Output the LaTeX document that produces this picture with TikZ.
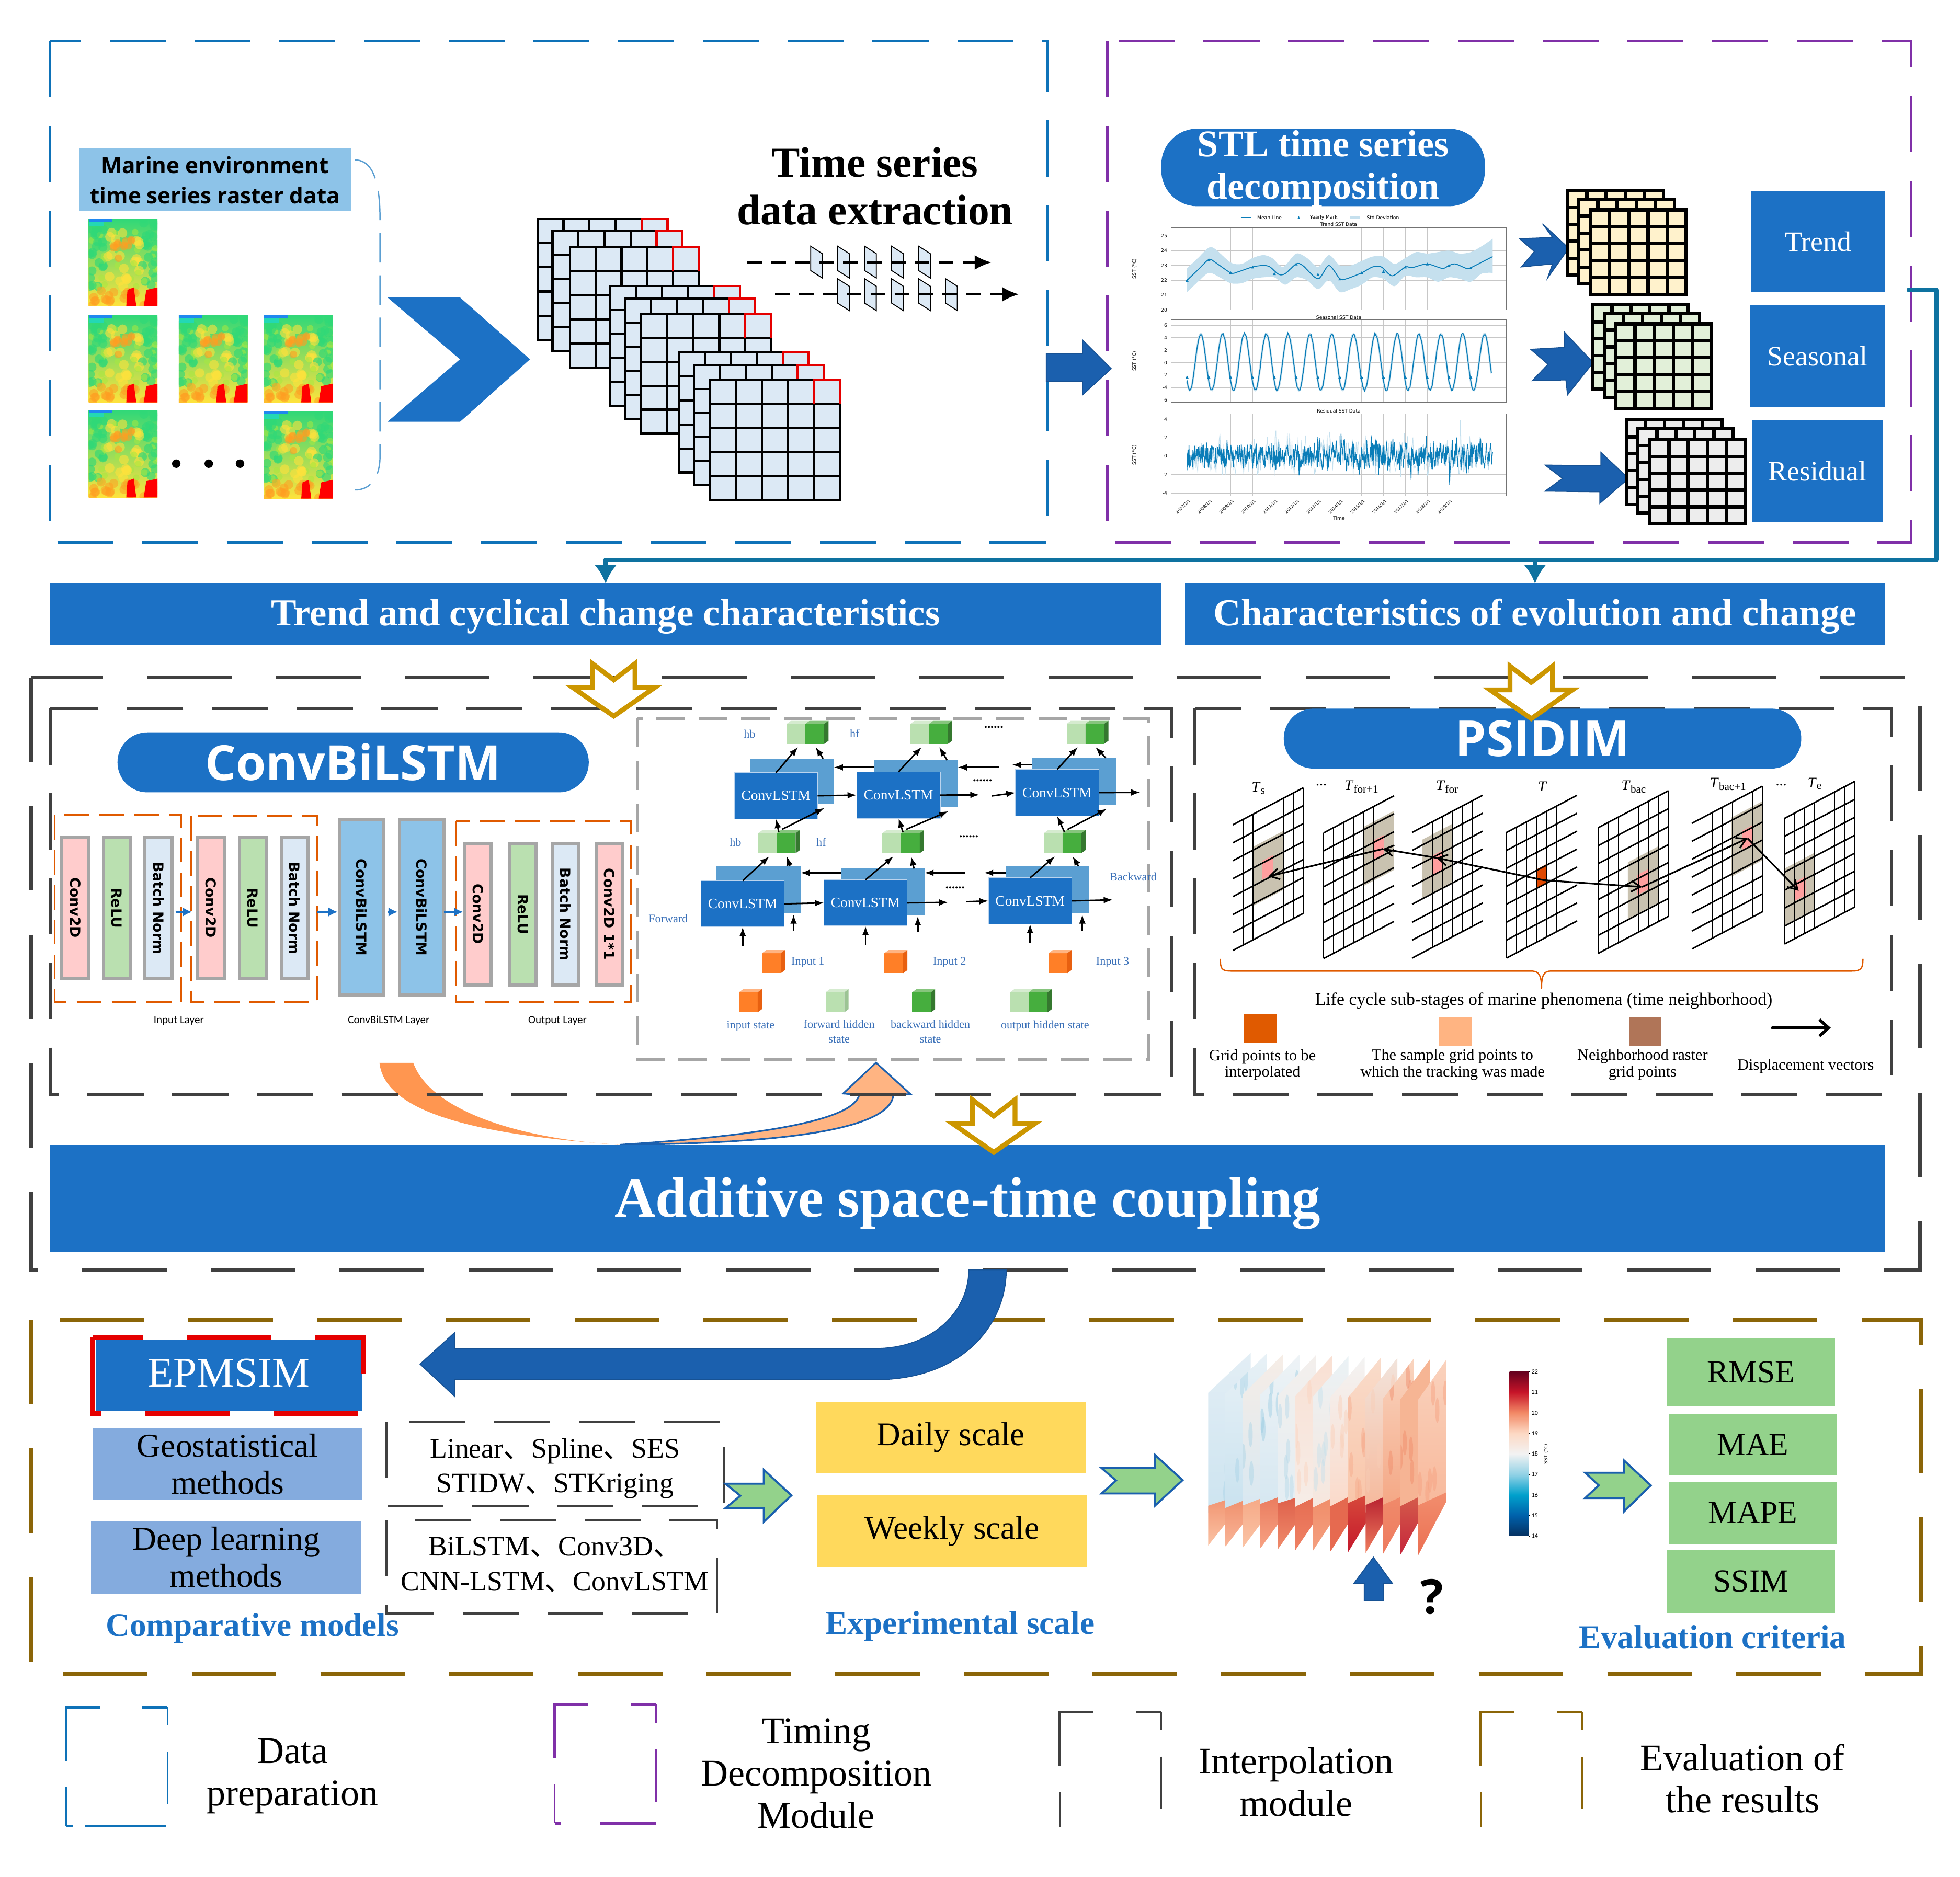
\documentclass[tikz,border=0pt]{standalone}
\usepackage{fontspec}
\setmainfont{Liberation Serif}
\setsansfont{Open Sans}
\newfontfamily\cjk{Noto Sans CJK SC}
\newfontfamily\dejavu{DejaVu Sans}
\newfontfamily\carlito{Carlito}
\usepackage{xcolor}
\usetikzlibrary{arrows.meta}
\usetikzlibrary{calc}

\definecolor{mainblue}{HTML}{1C71C5}
\definecolor{deepblue}{HTML}{1B60AE}
\definecolor{framecyan}{HTML}{0E72B8}
\definecolor{framepurple}{HTML}{8030A8}
\definecolor{framedark}{HTML}{404040}
\definecolor{framebrown}{HTML}{8B6508}
\definecolor{framegray}{HTML}{A6A6A6}
\definecolor{frameorange}{HTML}{E05A00}
\definecolor{tealline}{HTML}{0E72A0}
\definecolor{goldline}{HTML}{CC9600}
\definecolor{skyfill}{HTML}{8DC3E8}
\definecolor{paleblue}{HTML}{DCE9F5}
\definecolor{palepink}{HTML}{FFCCCC}
\definecolor{relugreen}{HTML}{BAE0B0}
\definecolor{backblue}{HTML}{5B9FD2}
\definecolor{netblue}{HTML}{3A70B8}
\definecolor{evalgreen}{HTML}{93D28B}
\definecolor{scaleyellow}{HTML}{FFD95C}
\definecolor{methodblue}{HTML}{84ABDE}
\definecolor{neighgray}{HTML}{C9C2B0}
\definecolor{samplered}{HTML}{FF9E9E}
\definecolor{targetred}{HTML}{E04800}
\definecolor{chartline}{HTML}{0A7DB8}
\definecolor{chartband}{HTML}{C5E0EE}
\definecolor{stackyellow}{HTML}{FFF2CC}
\definecolor{stackgreen}{HTML}{E2F0D9}
\definecolor{stackgray}{HTML}{EDEDED}
\definecolor{cubedark}{HTML}{46AE3E}
\definecolor{cubedarktop}{HTML}{86C57D}
\definecolor{cubedarkside}{HTML}{35782F}
\definecolor{cubelighttop}{HTML}{D5EBCF}
\definecolor{cubelightside}{HTML}{9CC494}
\definecolor{cubeorange}{HTML}{FF7F27}
\definecolor{cubeorangetop}{HTML}{FFB482}
\definecolor{cubeorangeside}{HTML}{E86010}
\definecolor{peachfill}{HTML}{FFB482}
\definecolor{orangefill}{HTML}{FF9650}
\definecolor{keybrown}{HTML}{B07558}
\definecolor{heatgreen}{HTML}{30D878}
\definecolor{heatlime}{HTML}{A8E840}
\definecolor{heatyellow}{HTML}{FFE23C}
\definecolor{heatorange}{HTML}{FF9E22}
\definecolor{heatblue}{HTML}{2088F0}
\definecolor{heatcyan}{HTML}{20D8C0}

\newcommand{\fsz}[2]{\fontsize{#1pt}{#2pt}\selectfont}

\pgfdeclareverticalshading{sstbar}{100bp}{rgb(0bp)=(0.02,0.19,0.38); rgb(25bp)=(0.02,0.19,0.38); rgb(31.25bp)=(0,0.38,0.67); rgb(37.5bp)=(0,0.63,0.8); rgb(43.75bp)=(0.57,0.82,0.9); rgb(50bp)=(0.95,0.95,0.95); rgb(56.25bp)=(0.99,0.85,0.77); rgb(62.5bp)=(0.95,0.54,0.4); rgb(68.75bp)=(0.78,0.08,0.16); rgb(75bp)=(0.4,0,0.12); rgb(100bp)=(0.4,0,0.12)}

\tikzset{
  rectbox/.style n args={4}{at={({(#1+#3)/2},{(#2+#4)/2})},minimum width={(#3-#1)*0.0239cm},minimum height={(#4-#2)*0.0239cm},inner sep=0pt,outer sep=0pt,anchor=center,align=center},
  cyanframe/.style={draw=framecyan,line width=1.4pt,dash pattern=on 30.5pt off 15.6pt},
  purpleframe/.style={draw=framepurple,line width=1.4pt,dash pattern=on 30.5pt off 15.6pt},
  darkouter/.style={draw=framedark,line width=2pt,dash pattern=on 46pt off 24pt},
  darkinner/.style={draw=framedark,line width=1.7pt,dash pattern=on 30.5pt off 15.6pt},
  brownframe/.style={draw=framebrown,line width=2pt,dash pattern=on 46pt off 24pt},
  grayframe/.style={draw=framegray,line width=1.7pt,dash pattern=on 15.6pt off 7.5pt},
  orangeframe/.style={draw=frameorange,line width=1pt,dash pattern=on 13.5pt off 5.5pt},
  modelframe/.style={draw=framedark,line width=1.2pt,dash pattern=on 30.5pt off 15.6pt},
  layerbox/.style={draw=framegray,line width=1.7pt},
  layertext/.style={font=\dejavu\bfseries\fsz{7.6}{8}},
  convbox/.style={fill=mainblue,text=white,font=\fsz{7.8}{9}},
  backbox/.style={fill=backblue},
  netarrow/.style={line width=.8pt,-{Latex[length=5pt,width=3.6pt]}},
  smallarrow/.style={color=mainblue,line width=.9pt,-{Latex[length=5pt,width=5pt]}},
  nettext/.style={text=netblue,font=\fsz{6.3}{7.8},align=center},
  blockarrow/.style={fill=deepblue,draw=deepblue!85!black,line width=.5pt},
  greenarrow/.style={fill=evalgreen,draw=deepblue,line width=1.1pt},
  bluecap/.style={text=mainblue,font=\bfseries\fsz{18}{19}},
  chartgrid/.style={draw=black!22,line width=.25pt},
  charttext/.style={font=\dejavu\fsz{2.6}{3},inner sep=0pt},
  tracearrow/.style={line width=.9pt,-{Straight Barb[length=5pt,width=6pt]}},
  legendtext/.style={font=\fsz{8.6}{9},align=center},
  sheettext/.style={font=\fsz{8}{9}},
  keytext/.style={font=\fsz{20.5}{23},align=center}
}

\newcommand{\heatmap}[2]{
  \begin{scope}[shift={(#1,#2)}]
    \clip (0,0) rectangle (55,70);
    \pgfmathsetseed{42}
    \shade[top color=heatgreen,middle color=heatlime,bottom color=heatyellow] (0,0) rectangle (55,70);
    \foreach \kk in {1,...,22} {
      \fill[heatgreen,opacity=.65] ({rnd*13},{rnd*56}) circle (3.6);
      \fill[heatgreen,opacity=.65] ({42+rnd*13},{rnd*56}) circle (3.6);
      \fill[heatyellow,opacity=.6] ({15+rnd*26},{10+rnd*46}) circle (3.8);
      \fill[heatlime,opacity=.55] ({rnd*55},{rnd*60}) circle (2.6);
    }
    \foreach \kk in {1,...,12}
      \fill[heatorange,opacity=.6] ({19+rnd*16},{12+rnd*20}) circle (3);
    \foreach \kk in {1,...,26}
      \fill[heatorange,opacity=.55] ({rnd*55},{57+rnd*13}) circle (3.6);
    \fill[heatblue] (0,0) rectangle (19,2.5);
    \fill[heatcyan,opacity=.85] (0,2.5) rectangle (12,6);
    \fill[red] (31,57) -- (36,55) -- (38,70) -- (30,70) -- cycle;
    \fill[red] (46,57) -- (55,55) -- (55,70) -- (44,70) -- cycle;
  \end{scope}
}
\newcommand{\gridstack}[7]{
  \filldraw[fill=#5,draw=black,line width=#6] (#1,#2) rectangle (#3,#4);
  \foreach \kk in {1,...,4} {
    \draw[line width=#6] ({#1+\kk*(#3-#1)/5},#2) -- ({#1+\kk*(#3-#1)/5},#4);
    \draw[line width=#6] (#1,{#2+\kk*(#4-#2)/5}) -- (#3,{#2+\kk*(#4-#2)/5});
  }
  \ifx#7r \draw[red!90!black,line width=#6] ({#1+4*(#3-#1)/5},{#2+(#4-#2)/5}) -- ({#1+4*(#3-#1)/5},#2) -- (#3,#2) -- (#3,{#2+(#4-#2)/5}); \fi
}
\newcommand{\goldarrow}[2]{
  \draw[fill=white,draw=goldline,line width=2.6pt] (#1,#2) -- ++(33,-23) -- ++(-16,0) -- ++(0,-19) -- ++(-17,13) -- ++(-17,-13) -- ++(0,19) -- ++(-16,0) -- cycle;
}
\newcommand{\onecube}[5]{
  \begin{scope}[shift={(#1,#2)}]
    \fill[#3] (0,0) rectangle (15,-16);
    \fill[#4] (0,-16) -- (3.4,-18.5) -- (18.4,-18.5) -- (15,-16) -- cycle;
    \fill[#5] (15,0) -- (18.4,-2.5) -- (18.4,-18.5) -- (15,-16) -- cycle;
  \end{scope}
}
\newcommand{\doublecube}[3]{
  \onecube{#2}{#3}{relugreen}{cubelighttop}{cubelightside}
  \begin{scope}[shift={(#2,#3)}]
    \coordinate (#1) at (15,0);
  \end{scope}
  \onecube{#2+15}{#3}{cubedark}{cubedarktop}{cubedarkside}
}
\newcommand{\legendbox}[5]{
  \draw[#5,line width=1.4pt] ({#1+27},#2) -- (#1,#2) -- (#1,{#2+43});
  \draw[#5,line width=1pt] (#1,{#2+64}) -- (#1,#4);
  \draw[#5,line width=1.4pt] ({#3-20},#2) -- (#3,#2);
  \draw[#5,line width=1pt] (#3,#2) -- (#3,{#2+14.5});
  \draw[#5,line width=1pt] (#3,{#2+35.5}) -- (#3,{#2+77.5});
}

\begin{document}
\begin{tikzpicture}[x=0.0239cm,y=-0.0239cm]
\useasboundingbox (0,0) rectangle (1568,1501.67);

% top frames
\draw[cyanframe] (40,33) rectangle (838,434);
\draw[purpleframe] (886,33) rectangle (1529,434);

\foreach \hx/\hy in {71/175,71/252,143/252,211/252,71/328,211/329} {
  \heatmap{\hx}{\hy}
}
\foreach \dx in {141,167,192}
  \fill (\dx,371) circle (3.4);
\node[rectbox={63}{119}{281}{169},fill=skyfill,font=\sffamily\bfseries\fsz{12}{16.5}] (rasterlabel) {Marine environment\\time series raster data};
\draw[color=backblue,line width=.7pt,dash pattern=on 16pt off 7pt] (284,128) .. controls (298,128) and (304,145) .. (304,175) -- (304,365) .. controls (304,380) and (298,392) .. (284,392);

\fill[mainblue] (310,238) -- (368,238) -- (424,287.5) -- (368,337.5) -- (310,337.5) -- (368,287.5) -- cycle;

\foreach \ax/\ay/\bx/\by in {430/175/534/272,442/185/546/281,456/198/559/294,488/229/592/325,500/239/604/335,513/251/617/347,543/282/647/378,555/292/659/388,568/304/672/400} {
  \gridstack{\ax}{\ay}{\bx}{\by}{paleblue}{1.2pt}{r}
}

\node[font=\bfseries\fsz{23.2}{25.8},align=center] (extractlabel) at (700,149) {Time series\\data extraction};
\foreach \idx in {0,...,4} {
  \filldraw[fill=paleblue,line width=.5pt] ({648.5+21.6*\idx},197) -- ++(9.4,6) -- ++(0,19.5) -- ++(-9.4,-6) -- cycle;
  \filldraw[fill=paleblue,line width=.5pt] ({670+21.6*\idx},223) -- ++(9.4,6) -- ++(0,19.5) -- ++(-9.4,-6) -- cycle;
}
\coordinate (dashAa) at (598,210);
\coordinate (dashAb) at (793,210);
\coordinate (dashBa) at (620,235.5);
\coordinate (dashBb) at (815,235.5);
\draw[line width=1pt,dash pattern=on 8pt off 5pt,-{Latex[length=9pt,width=8pt]}] (dashAa) -- (dashAb);
\draw[line width=1pt,dash pattern=on 8pt off 5pt,-{Latex[length=9pt,width=8pt]}] (dashBa) -- (dashBb);

\draw[blockarrow] (837,283) -- (866,283) -- (866,272) -- (889,295) -- (866,316) -- (866,305) -- (837,305) -- cycle;

% charts
\node[rectbox={929}{103}{1188}{165},fill=mainblue,rounded corners=.69cm] (stlpill) {};
\node[text=white,font=\bfseries\fsz{20.5}{23},align=center] (stltext) at (1058.5,135) {STL time series\\decomposition};
\draw[color=chartline,line width=.4pt] (992.6,174) -- (1001,174);
\node[charttext] (meanlabel) at (1015.6,174) {Mean Line};
\fill[chartline] (1038,175.2) -- (1040,175.2) -- (1039,172.8) -- cycle;
\node[charttext] (yearlabel) at (1059,174) {Yearly Mark};
\fill[chartband] (1080,172.8) rectangle (1088,175.2);
\node[charttext] (stdlabel) at (1106.3,174) {Std Deviation};
\node[charttext] (trendtitle) at (1071,179.5) {Trend SST Data};
\node[charttext] (seasontitle) at (1071,254) {Seasonal SST Data};
\node[charttext] (residtitle) at (1071,329) {Residual SST Data};
\foreach \boxt/\boxb in {182/248,256/322,331/397} {
  \foreach \yrs in {0,...,13}
    \draw[chartgrid] ({949.6+17.46*\yrs},\boxt) -- ({949.6+17.46*\yrs},\boxb);
  \node[charttext,rotate=90] (sst\boxt) at (907.5,{(\boxt+\boxb)/2}) {SST (°C)};
}
\foreach \vv in {20,...,25} {
  \draw[chartgrid] (937,{485-11.85*\vv}) -- (1205,{485-11.85*\vv});
  \node[charttext,anchor=east] (tr\vv) at (934,{485-11.85*\vv}) {\vv};
}
\foreach \vv in {-6,-4,-2,0,2,4,6} {
  \draw[chartgrid] (937,{290.2-5*\vv}) -- (1205,{290.2-5*\vv});
  \node[charttext,anchor=east] (se\vv) at (934,{290.2-5*\vv}) {\vv};
}
\foreach \vv in {-4,-2,0,2,4} {
  \draw[chartgrid] (937,{365-7.4*\vv}) -- (1205,{365-7.4*\vv});
  \node[charttext,anchor=east] (re\vv) at (934,{365-7.4*\vv}) {\vv};
}
\begin{scope}[shift={(949.6,485)},x=0.4173cm,y=0.2832cm]
  \fill[chartband] plot[smooth] coordinates {(0,22.8)(.5,23.5)(1,24.2)(1.3,24.1)(2,23.2)(2.5,23.1)(3,23.5)(3.5,23.7)(3.9,23.5)(4.4,22.9)(5,23.8)(5.5,23.5)(6,22.9)(6.5,23.7)(7,23)(7.5,23)(8,23.3)(8.5,23.6)(9,23.6)(9.5,23.1)(10,23.5)(10.5,23.9)(11,23.8)(11.5,23.9)(12,24)(12.5,23.8)(13,23.9)(13.5,24.3)(14,24.8)} -- plot[smooth] coordinates {(14,22.5)(13.5,22.45)(13,21.9)(12.5,22.1)(12,22.2)(11.5,21.9)(11,22.2)(10.5,22.2)(10,22.3)(9.5,21.6)(9,22.1)(8.5,22.2)(8,21.7)(7.5,21.4)(7,21.2)(6.5,22)(6,21.4)(5.5,22)(5,22.2)(4.5,21.7)(4,22.2)(3.5,22.2)(3,22.1)(2.5,21.8)(2,21.8)(1.5,22.2)(1,22.5)(.5,21.9)(0,21.2)} -- cycle;
  \draw[chartline,line width=.5pt] plot[smooth] coordinates {(0,22)(.5,22.7)(1,23.4)(1.3,23.2)(2,22.5)(2.3,22.55)(3,22.9)(3.5,23)(3.8,22.9)(4.2,22.4)(4.5,22.45)(5,23.1)(5.3,23)(6,22.1)(6.5,23)(7,22.1)(7.3,22.1)(8,22.5)(8.5,22.9)(8.9,22.9)(9.4,22.3)(10,22.9)(10.3,22.85)(11,23.1)(11.7,22.8)(12,23)(12.3,23.1)(12.8,22.8)(13,22.85)(14,23.6)};
  \foreach \yrs/\vv in {0/22,1/23.4,2/22.5,3/22.9,4/22.45,5/23.1,6/22.4,7/22.1,8/22.5,9/22.6,10/22.9,11/23.1,12/23,13/22.85}
    \fill[chartline] (\yrs,\vv) +(-.07,-.1) -- +(.07,-.1) -- +(0,.1) -- cycle;
\end{scope}
\begin{scope}[shift={(949.6,290.2)},x=0.4173cm,y=0.1195cm]
  \pgfmathsetseed{11}
  \draw[chartband,line width=1.1pt] plot[domain=0:13.95,samples=330] (\x,{0.1+4.5*sin(360*(\x-0.38))});
  \draw[chartline,line width=.5pt] plot[domain=0:13.95,samples=330] (\x,{0.1+4.5*sin(360*(\x-0.38))+.35*(rnd-.5)});
  \foreach \yrs in {0,...,13}
    \fill[chartline] (\yrs,-2.3) +(-.07,-.24) -- +(.07,-.24) -- +(0,.24) -- cycle;
\end{scope}
\begin{scope}[shift={(949.6,365)},x=0.4173cm,y=0.1769cm]
  \pgfmathsetseed{5}
  \draw[chartband,line width=.3pt] plot[domain=0:14,samples=400] (\x,{3.2*(rnd-.5)+24*(rnd-.5)*(rnd-.5)*(rnd-.5)});
  \draw[chartline,line width=.4pt] plot[domain=0:14,samples=620] (\x,{2.6*(rnd-.5)+18*(rnd-.5)*(rnd-.5)*(rnd-.5)});
\end{scope}
\foreach \boxt/\boxb in {182/248,256/322,331/397}
  \draw[black!55,line width=.3pt] (937,\boxt) rectangle (1205,\boxb);
\foreach \yrs in {0,...,12} {
  \pgfmathtruncatemacro{\yr}{2007+\yrs}
  \node[font=\dejavu\fsz{2.2}{3},inner sep=0pt,rotate=45,anchor=north east] (date\yr) at ({949.6+17.46*\yrs+1},399) {\yr/1/1};
}
\node[charttext] (timelabel) at (1071.2,414.5) {Time};

\draw[blockarrow] (1215.7,191) -- (1242,190) -- (1234,179) -- (1255,198.6) -- (1238,222.6) -- (1242,211.2) -- (1217,213.6) -- (1227.5,201.3) -- cycle;
\draw[blockarrow] (1224.5,279.5) -- (1251.3,278) -- (1251.3,265.4) -- (1274.5,290.2) -- (1254,316) -- (1252.7,304) -- (1225.8,304.6) -- (1238.4,291.5) -- cycle;
\draw[blockarrow] (1236,372.1) -- (1280.7,372.7) -- (1280.7,362) -- (1302.9,382.8) -- (1279.8,402.8) -- (1279.8,393.5) -- (1236,393) -- (1250,382.8) -- cycle;

\foreach \ax/\ay/\bx/\by in {1254.2/152.7/1330.7/220,1263/159.4/1339.5/227.2,1272.5/167.9/1349/235.5} {
  \gridstack{\ax}{\ay}{\bx}{\by}{stackyellow}{1.8pt}{n}
}
\foreach \ax/\ay/\bx/\by in {1274.3/244/1350.4/311.3,1283.5/250.7/1359.6/318,1292.7/259.2/1369.3/326.8} {
  \gridstack{\ax}{\ay}{\bx}{\by}{stackgreen}{1.8pt}{n}
}
\foreach \ax/\ay/\bx/\by in {1301/336/1377.6/403.6,1310.3/343/1386.4/410.6,1319.9/351.9/1396.4/419.1} {
  \gridstack{\ax}{\ay}{\bx}{\by}{stackgray}{1.8pt}{n}
}

\node[rectbox={1401}{153}{1508}{234},fill=mainblue,text=white,font=\fsz{15.3}{16}] (trendblock) {Trend};
\node[rectbox={1400}{244}{1508}{326},fill=mainblue,text=white,font=\fsz{15.3}{16}] (seasonblock) {Seasonal};
\node[rectbox={1402}{336}{1506}{418},fill=mainblue,text=white,font=\fsz{15.3}{16}] (residblock) {Residual};

% feature bars
\node[rectbox={40}{467}{929}{516},fill=mainblue,text=white,font=\bfseries\fsz{20.7}{21},text height=16pt,text depth=3.7pt] (trendbar) {Trend and cyclical change characteristics};
\node[rectbox={948}{467}{1508}{516},fill=mainblue,text=white,font=\bfseries\fsz{20.7}{21},text height=16pt,text depth=3.7pt] (charbar) {Characteristics of evolution and change};
\coordinate (tealstart) at (1527,232);
\coordinate (tealside) at (1549,448);
\draw[tealline,line width=2.4pt,line cap=round,line join=round] (tealstart) -| (tealside) -- (tealside -| trendbar.north);
\draw[tealline,line width=2.4pt,-{Latex[length=10pt,width=12pt]}] (tealside -| trendbar.north) -- (trendbar.north);
\draw[tealline,line width=2.4pt,-{Latex[length=10pt,width=12pt]}] (tealside -| charbar.north) -- (charbar.north);

% curved arrows under the first network
\fill[orangefill] (303.6,850.5) .. controls (308,890) and (380,908) .. (495.8,916) .. controls (420,912) and (345,890) .. (330.6,850.5) -- cycle;
\filldraw[fill=peachfill,draw=deepblue,line width=.9pt] (495.8,916) .. controls (620,915) and (712,905) .. (714.7,876) -- (728.4,875.5) -- (700.8,850.3) -- (674.5,875) -- (687.4,876) .. controls (683,895) and (620,908) .. (495.8,916) -- cycle;

% interpolation frames
\draw[darkouter] (25,542) rectangle (1536,1016);
\draw[darkinner] (40,567) rectangle (937,876);
\draw[darkinner] (956,567) rectangle (1513,876);
\draw[grayframe] (510,575) rectangle (918.5,848);

\node[rectbox={94}{586}{471}{634},fill=mainblue,rounded corners=.57cm,text=white,font=\sffamily\bfseries\fsz{26.4}{27}] (convpill) {ConvBiLSTM};
\node[rectbox={1027}{567}{1441}{615},fill=mainblue,rounded corners=.57cm,text=white,font=\sffamily\bfseries\fsz{27}{28}] (psidimpill) {PSIDIM};

\draw[orangeframe] (43.7,652) rectangle (145,802);
\draw[orangeframe] (153,653) rectangle (254,802);
\draw[orangeframe] (365,657) rectangle (505,802);

\foreach \nm/\xa/\xb/\ya/\yb/\col/\txt in {a1/49.4/70.9/670/783/palepink/Conv2D,a2/83/104/670/783/relugreen/ReLU,a3/116/137.5/670/783/paleblue/Batch Norm,b1/158/179.7/670/783/palepink/Conv2D,b2/191.5/213/670/783/relugreen/ReLU,b3/225/246.6/670/783/paleblue/Batch Norm,l1/271.6/307/656/796/skyfill/ConvBiLSTM,l2/319.6/355/656/796/skyfill/ConvBiLSTM,c1/372/393/675/788/palepink/Conv2D,c2/408/429/675/788/relugreen/ReLU,c3/442/463/675/788/paleblue/Batch Norm,c4/477/498/675/788/palepink/Conv2D 1*1}
  \node[rectbox={\xa}{\ya}{\xb}{\yb},layerbox,fill=\col,layertext] (\nm) {\rotatebox[origin=c]{-90}{\txt}};
\coordinate (layerrow) at (0,729.7);
\draw[smallarrow,shorten <=2pt,shorten >=3pt] (a3.east |- layerrow) -- (b1.west |- layerrow);
\draw[smallarrow,shorten <=5pt,shorten >=1pt] (b3.east |- layerrow) -- (l1.west |- layerrow);
\draw[smallarrow,shorten <=2pt,shorten >=1pt] (l1.east |- layerrow) -- (l2.west |- layerrow);
\draw[smallarrow,shorten >=1pt] (l2.east |- layerrow) -- (c1.west |- layerrow);
\node[font=\carlito\fsz{6}{7}] (inlayer) at (143,816.8) {Input Layer};
\node[font=\carlito\fsz{6}{7}] (midlayer) at (311,816.8) {ConvBiLSTM Layer};
\node[font=\carlito\fsz{6}{7}] (outlayer) at (446,816.8) {Output Layer};

% network
\foreach \nm/\xa/\ya/\xb/\yb in {ub1/600/607/667/643,ub2/699.3/608.3/766.1/645.6,ub3/826/606.4/893/643.7,lb1/573.3/693.1/640.4/730.7,lb2/673/695/739.5/732,lb3/804.4/693.1/871.3/730.7}
  \node[rectbox={\xa}{\ya}{\xb}{\yb},backbox] (\nm) {};
\foreach \nm/\xa/\ya/\xb/\yb in {uf1/587.5/618.3/654/655.2,uf2/685.4/617.6/752.2/654.8,uf3/812.4/615.6/879/652.9,lf1/560.9/704.7/627.4/741.7,lf2/659.2/704/725.6/740.9,lf3/790.8/702.4/857.3/739.3}
  \node[rectbox={\xa}{\ya}{\xb}{\yb},convbox,draw=white!70!mainblue,line width=.3pt] (\nm) {ConvLSTM};

\doublecube{ct1}{629.4}{595.2}
\doublecube{ct2}{728.3}{595.2}
\doublecube{ct3}{853.3}{595.2}
\doublecube{cm1}{606.5}{682.7}
\doublecube{cm2}{705.8}{682.7}
\doublecube{cm3}{835}{682.7}
\foreach \cx in {609.6,707.5,838.8} {
  \onecube{\cx}{778.7}{cubeorange}{cubeorangetop}{cubeorangeside}
}
\onecube{591.1}{810}{cubeorange}{cubeorangetop}{cubeorangeside}
\onecube{660.4}{810}{relugreen}{cubelighttop}{cubelightside}
\onecube{729.7}{810}{cubedark}{cubedarktop}{cubedarkside}
\doublecube{clegend}{808}{810}

\foreach \ff/\bb/\cc in {uf1/ub1/ct1,uf2/ub2/ct2,uf3/ub3/ct3,lf1/lb1/cm1,lf2/lb2/cm2,lf3/lb3/cm3} {
  \draw[netarrow] (\ff.north) -- ([shift={(-6,2.5)}]\cc);
  \draw[netarrow] ([shift={(25,0)}]\bb.north) -- ([shift={(8,2.5)}]\cc);
}
\foreach \cc/\ff/\bb in {cm1/uf1/ub1,cm2/uf2/ub2,cm3/uf3/ub3} {
  \draw[netarrow] ([shift={(1.5,-17)}]\cc) -- (\ff.south);
  \draw[netarrow] ([shift={(4,-19)}]\cc) -- ([shift={(26,3.5)}]\bb.south);
}
\foreach \ff/\bb in {lf1/lb1,lf2/lb2,lf3/lb3} {
  \draw[netarrow] ([shift={(0,15)}]\ff.south) -- (\ff.south);
  \draw[netarrow] ([shift={(28,14)}]\bb.south) -- ([shift={(28,1)}]\bb.south);
}
\coordinate (ubrow) at (0,614);
\coordinate (ubfree) at (799,614);
\coordinate (ubtail) at (809.6,612);
\draw[netarrow] (ub2.west |- ubrow) -- (ub1.east |- ubrow);
\draw[netarrow] (ubfree) -- (ub2.east |- ubrow);
\draw[netarrow] (ub3.west |- ubtail) -- (ubtail);
\coordinate (ufout) at (783.6,636);
\coordinate (ufin) at (793.4,636.9);
\coordinate (ufend) at (912.3,634);
\draw[netarrow] (uf1.east) -- (uf2.west);
\draw[netarrow] (uf2.east) -- (ufout);
\draw[netarrow] (ufin) -- (uf3.west);
\draw[netarrow] (uf3.east) -- (ufend);
\coordinate (lbrow) at (0,698.4);
\coordinate (lbfree) at (772.2,698.4);
\coordinate (lbtail) at (787.2,698.4);
\draw[netarrow] (lb2.west |- lbrow) -- (lb1.east |- lbrow);
\draw[netarrow] (lbfree) -- (lb2.east |- lbrow);
\draw[netarrow] (lb3.west |- lbrow) -- (lbtail);
\coordinate (lfout) at (758.6,722);
\coordinate (lfin) at (772.8,721.5);
\coordinate (lfend) at (890.3,720);
\draw[netarrow] (lf1.east) -- (lf2.west);
\draw[netarrow] (lf2.east) -- (lfout);
\draw[netarrow] (lfin) -- (lf3.west);
\draw[netarrow] (lf3.east) -- (lfend);

\node[nettext] (hb1) at (599.7,587.5) {hb};
\node[nettext] (hf1) at (683.7,587) {hf};
\node[nettext] (hb2) at (588.4,674) {hb};
\node[nettext] (hf2) at (657,674) {hf};
\node[nettext] (forward) at (534.6,734.9) {Forward};
\node[nettext] (backward) at (906.6,701.4) {Backward};
\node[nettext] (input1) at (646.3,770.1) {Input 1};
\node[nettext] (input2) at (759.6,770.1) {Input 2};
\node[nettext] (input3) at (890.1,770.1) {Input 3};
\node[nettext] (inputstate) at (600.5,821) {input state};
\node[nettext] (fwdstate) at (671.3,825.4) {forward hidden\\state};
\node[nettext] (bwdstate) at (744.3,825.4) {backward hidden\\state};
\node[nettext] (outstate) at (836,821) {output hidden state};
\foreach \dx/\dy in {795/582,786/624.5,775/669.5,764/710.5}
  \node[font=\bfseries\fsz{7}{8},inner sep=0pt] (dots\dx) at (\dx,\dy) {......};

% psidim sheets
\foreach \px/\py/\na/\nb/\nc/\nd/\ra/\rb/\rc/\rd/\rcol in {
  986.3/760.5/.285/.71/.27/.74/.42/.57/.44/.59/samplered,
  1058.8/767/.576/1/.41/.88/.71/.855/.58/.73/samplered,
  1129.7/766.6/.146/.576/.43/.9/.28/.43/.57/.73/samplered,
  1205.2/766.6/0/0/0/0/.43/.57/.43/.58/targetred,
  1278.4/762.9/.424/.854/.15/.6/.556/.72/.3/.46/samplered,
  1353.5/759.3/.563/1/.41/.88/.715/.86/.58/.73/samplered,
  1427.5/755.4/0/.43/.15/.6/.15/.3/.3/.45/samplered} {
  \begin{scope}[shift={(\px,\py)},x={(1.348cm,0.71cm)},y={(0cm,2.402cm)}]
    \fill[neighgray] (\na,\nc) -- (\nb,\nc) -- (\nb,\nd) -- (\na,\nd) -- cycle;
    \fill[\rcol] (\ra,\rc) -- (\rb,\rc) -- (\rb,\rd) -- (\ra,\rd) -- cycle;
    \foreach \kk in {0,...,7} {
      \draw[line width=.4pt] ({\kk/7},0) -- ({\kk/7},1);
      \draw[line width=.8pt] (0,{\kk/7}) -- (1,{\kk/7});
    }
  \end{scope}
}
\coordinate (pT) at (1235.1,704.3);
\coordinate (pFor) at (1149.2,686.4);
\coordinate (pForB) at (1106.2,679.3);
\coordinate (pS) at (1014.7,701.3);
\coordinate (pBac) at (1313.6,709.7);
\coordinate (pBacB) at (1398,670.8);
\coordinate (pE) at (1438.9,712.8);
\draw[tracearrow] (pT) -- (pFor);
\draw[tracearrow] (pFor) -- (pForB);
\draw[tracearrow] (pForB) -- (pS);
\draw[tracearrow] (pT) -- (pBac);
\draw[tracearrow] (pBac) -- (pBacB);
\draw[tracearrow] (pBacB) -- (pE);

\node[sheettext] (ts) at (1007,630.6) {\textit{T}\textsubscript{s}};
\node[sheettext] (dotsa) at (1057,628) {...};
\node[sheettext] (tforb) at (1089.5,629.5) {\textit{T}\textsubscript{for+1}};
\node[sheettext] (tfor) at (1158,629.5) {\textit{T}\textsubscript{for}};
\node[sheettext] (tmid) at (1234,629.5) {\textit{T}};
\node[sheettext] (tbac) at (1307.3,629.5) {\textit{T}\textsubscript{bac}};
\node[sheettext] (tbacb) at (1382.7,627.5) {\textit{T}\textsubscript{bac+1}};
\node[sheettext] (dotsb) at (1425,628) {...};
\node[sheettext] (te) at (1452,627) {\textit{T}\textsubscript{e}};

\draw[color=frameorange,line width=.7pt] (976.3,767.2) .. controls (976.3,775) and (977,777) .. (985,777) -- (1225,777) .. controls (1231,777) and (1233.2,780) .. (1233.2,791) .. controls (1233.2,780) and (1235,777) .. (1241,777) -- (1481,777) .. controls (1489,777) and (1490.3,775) .. (1490.3,767.2);
\node[font=\fsz{9.6}{10}] (lifecycle) at (1235,801) {Life cycle sub-stages of marine phenomena (time neighborhood)};

\node[rectbox={995.3}{811.7}{1021.3}{834.5},fill=frameorange] (keytarget) {};
\node[rectbox={1151}{813.5}{1177.2}{836.5},fill=peachfill] (keysample) {};
\node[rectbox={1303.5}{813.5}{1329.3}{836.5},fill=keybrown] (keyneigh) {};
\coordinate (keya) at (1418,822.4);
\coordinate (keyb) at (1464.6,822.4);
\draw[line width=1.6pt,line cap=round,-{Straight Barb[length=5pt,width=9pt]}] (keya) -- (keyb);
\node[legendtext] (keytargetlabel) at (1010,852) {Grid points to be\\interpolated};
\node[legendtext] (keysamplelabel) at (1162,852) {The sample grid points to\\which the tracking was made};
\node[legendtext] (keyneighlabel) at (1314,852) {Neighborhood raster\\grid points};
\node[legendtext] (keyvectorlabel) at (1444.5,853) {Displacement vectors};

% coupling bar
\node[rectbox={40}{916}{1508}{1002},fill=mainblue,text=white,font=\bfseries\fsz{31}{32},text height=26pt,text depth=6pt] (couplingbar) {Additive space-time coupling};
\goldarrow{491}{573}
\goldarrow{1225}{575}
\goldarrow{795}{922}

% evaluation part
\draw[brownframe] (25,1056) rectangle (1537,1339.5);
\draw[blockarrow] (805,1016) .. controls (805,1060) and (770,1104) .. (700,1104) -- (364,1104) -- (364,1117.6) -- (336,1091.5) -- (364,1066) -- (364,1079) -- (700,1079) .. controls (745,1079) and (775,1050) .. (775,1016) -- cycle;

\node[rectbox={76.4}{1072.3}{289.4}{1128.9},fill=mainblue,text=white,font=\fsz{23}{24},text depth=2.8pt] (epmsim) {EPMSIM};
\draw[color=red!90!black,line width=2.4pt,dash pattern=on 46pt off 24pt] (74,1070) rectangle (290.5,1131);
\node[rectbox={74}{1143}{290}{1200},fill=methodblue,font=\fsz{18.1}{20}] (geo) {Geostatistical\\methods};
\node[rectbox={73}{1217}{289}{1275},fill=methodblue,font=\fsz{18.1}{20}] (deep) {Deep learning\\methods};
\draw[modelframe] (309.3,1138) rectangle (579,1205);
\draw[modelframe] (309.3,1216.3) rectangle (573.6,1291);
\node[font=\fsz{15.3}{19},align=center] (geolist) at (444,1175) {Linear{\cjk 、}Spline{\cjk 、}SES\\STIDW{\cjk 、}STKriging};
\node[font=\fsz{15.3}{19},align=center] (deeplist) at (444,1252) {BiLSTM{\cjk 、}Conv3D{\cjk 、}\\CNN-LSTM{\cjk 、}ConvLSTM};
\node[bluecap] (compare) at (202,1303) {Comparative models};

\draw[greenarrow] (580.3,1187.2) -- (611,1187.2) -- (611,1176) -- (633.1,1196.5) -- (611,1217.7) -- (611,1206.8) -- (580.3,1206.8) -- (592.3,1196.8) -- cycle;
\node[rectbox={653}{1121.8}{868.5}{1179},fill=scaleyellow,font=\fsz{18}{19}] (daily) {Daily scale};
\node[rectbox={653.8}{1196.5}{869.5}{1254},fill=scaleyellow,font=\fsz{18}{19}] (weekly) {Weekly scale};
\node[bluecap] (experiment) at (768,1301) {Experimental scale};
\draw[greenarrow] (881.3,1174.7) -- (923.8,1174.7) -- (923.8,1164) -- (946.1,1184.3) -- (923.8,1204.9) -- (923.8,1195) -- (881.3,1195) -- (892.8,1184.7) -- cycle;

\pgfmathsetseed{23}
\foreach \idx/\ca/\cb/\cc/\cd/\ce in {0/E3EEF5/CDE4F0/F08E6A/FBC4A6/A8D3E6,1/E8F1F6/C9E2EF/EE8A66/F9B699/A8D3E6,2/F7EDE6/D7E8F2/F4A582/FBC4A6/A8D3E6,3/EEF3F6/D5E7F1/E8775A/F7A283/9CCDE3,4/F4EFEC/E3EEF4/DC5B47/F08C6C/B5D8E9,5/F9E0D3/F6EDE8/E3694F/F08265/FBD3BE,6/EAF2F6/F7E6DC/EF8A66/F5A080/C5E0EC,7/F3F3F3/FBD9C8/E3694F/E86A50/FACFB8,8/F9DCCB/F9C4A7/D94F3D/C4172B/F6A98A,9/F2E4DC/F6B89A/B2182B/F07F5F/F9CDB6,10/F9D5C0/F4A582/F08C6C/EE7A5E/F08B69,11/F6B594/F6B494/D6604D/C5253A/F08B69,12/FAD2BD/F8B89A/F28E6E/EB6F52/F6A07F} {
  \edef\mkcols{\noexpand\definecolor{sa}{HTML}{\ca}\noexpand\definecolor{sb}{HTML}{\cb}\noexpand\definecolor{sc}{HTML}{\cc}\noexpand\definecolor{sd}{HTML}{\cd}\noexpand\definecolor{se}{HTML}{\ce}}\mkcols
  \pgfmathsetmacro{\sx}{966.5+14*\idx}
  \pgfmathsetmacro{\sw}{34-.96*\idx}
  \pgfmathsetmacro{\sbot}{1236.7+.65*\idx}
  \pgfmathsetmacro{\stp}{1082.5+.46*\idx}
  \begin{scope}
    \clip (\sx,\sbot) -- (\sx,{\stp+32}) -- ({\sx+\sw},\stp) -- ({\sx+\sw},{\sbot-43}) -- cycle;
    \shade[top color=sa,bottom color=sb] ({\sx-1},{\stp-1}) rectangle ({\sx+\sw+1},1210);
    \foreach \kk in {1,...,7}
      \fill[se,opacity=.45] ({\sx+rnd*\sw},{1100+rnd*95}) ellipse (1.7 and 10);
    \shade[top color=sc,bottom color=sd] ({\sx-1},{1203+4*rnd}) -- ({\sx+\sw+1},{1190+4*rnd}) -- ({\sx+\sw+1},{\sbot+1}) -- ({\sx-1},{\sbot+1}) -- cycle;
  \end{scope}
}
\shade[shading=sstbar] (1207.6,1097.6) rectangle (1222.8,1229.1);
\foreach \vv in {14,...,22} {
  \draw[line width=.25pt] (1222.8,{1229.1-16.44*(\vv-14)}) -- ++(1.5,0);
  \node[font=\carlito\fsz{3.4}{4},anchor=west,inner sep=0pt] (tick\vv) at (1225,{1229.1-16.44*(\vv-14)}) {\vv};
}
\node[charttext,rotate=90] (barlabel) at (1236.8,1163.4) {SST (°C)};
\draw[blockarrow] (1098.7,1246) -- (1114,1267) -- (1106.6,1267) -- (1106.6,1281) -- (1091.4,1281) -- (1091.4,1267) -- (1083,1267) -- cycle;
\node[font=\sffamily\bfseries\fsz{26}{27}] (question) at (1145.5,1277.8) {?};

\draw[greenarrow] (1268.1,1178.4) -- (1299,1178.4) -- (1299,1168.4) -- (1320.6,1188.5) -- (1299,1209.6) -- (1299,1198.7) -- (1268.1,1198.7) -- (1279,1188.5) -- cycle;
\node[rectbox={1333.7}{1070.7}{1468}{1124.9},fill=evalgreen,font=\fsz{17.5}{18}] (rmse) {RMSE};
\node[rectbox={1335}{1131.7}{1469.7}{1180},fill=evalgreen,font=\fsz{17.5}{18}] (mae) {MAE};
\node[rectbox={1335}{1185.4}{1469.7}{1235.3},fill=evalgreen,font=\fsz{17.5}{18}] (mape) {MAPE};
\node[rectbox={1333.7}{1240.4}{1468}{1290.5},fill=evalgreen,font=\fsz{17.5}{18}] (ssim) {SSIM};
\node[bluecap] (criteria) at (1370,1310) {Evaluation criteria};

% key
\legendbox{53}{1366}{134}{1461}{framecyan}
\draw[framecyan,line width=1.4pt] (53,1461) -- (58,1461);
\draw[framecyan,line width=1.4pt] (68,1461) -- (133,1461);
\legendbox{443.7}{1364}{525}{1459}{framepurple}
\draw[framepurple,line width=1.4pt] (443.7,1459) -- (449,1459);
\draw[framepurple,line width=1.4pt] (480,1459) -- (525,1459);
\legendbox{847.7}{1370}{929}{1462}{framedark}
\legendbox{1184.6}{1370}{1266}{1462}{framebrown}
\node[keytext] (keydata) at (234,1421) {Data\\preparation};
\node[keytext] (keytiming) at (653,1419) {Timing\\Decomposition\\Module};
\node[keytext] (keyinter) at (1037,1426) {Interpolation\\module};
\node[keytext] (keyeval) at (1394,1423) {Evaluation of\\the results};
\end{tikzpicture}
\end{document}
